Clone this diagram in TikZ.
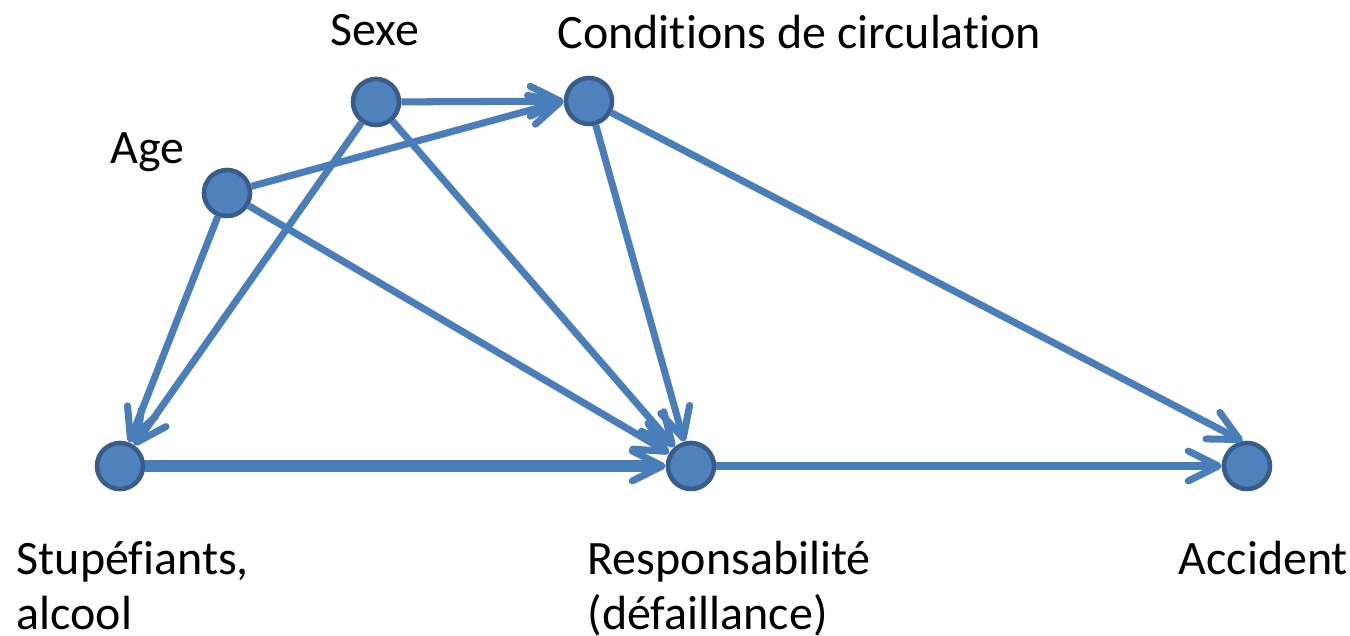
\documentclass[tikz,border=0pt]{standalone}
\usepackage{fontspec}
\setmainfont{Carlito}[Ligatures=NoCommon]
\usetikzlibrary{arrows.meta,positioning}
\definecolor{nodefill}{HTML}{4F81BD}
\definecolor{nodeline}{HTML}{385D8A}
\definecolor{edgecol}{HTML}{4A7EBB}
\begin{document}
\begin{tikzpicture}
[x=0.01cm,y=-0.01cm,
vertex/.style={shape=circle,minimum size=0.46cm,inner sep=0pt,draw=nodeline,fill=nodefill,line width=1.3pt},
lbl/.style={inner sep=0pt,anchor=base west,align=left,font=\fontsize{13.65pt}{15.6pt}\selectfont},
%
myedge/.style={line width=2pt,edgecol,-{Straight Barb[length=8.5pt,width=8.5pt,line width=2pt,round]}},
fatedge/.style={myedge,line width=3.2pt}]
%
\useasboundingbox (0,0) rectangle (1350,636);
%
\node (sexe) [vertex] at (376,102) {};
\node (cond) [vertex] at (589,101) {};
\node (age) [vertex] at (227,193) {};
\node (stup) [vertex] at (120,466) {};
\node (resp) [vertex] at (691,466) {};
\node (acc) [vertex] at (1247,466) {};
%
\node (tsexe) [lbl] at (330,45) {Sexe};
\node (tcond) [lbl] at (557,48) {Conditions de circulation};
\node (tage) [lbl] at (110,163) {Age};
\node (tstup) [lbl] at (16,629) {Stupéfiants,\\alcool};
\node (tresp) [lbl] at (587,629) {Responsabilité\\(défaillance)};
\node (tacc) [lbl] at (1178,574) {Accident};
%
\draw[myedge] (sexe) -- (cond);
\draw[myedge] (age) -- (cond.west);
%
\draw[myedge] (sexe) -- (stup);
\draw[myedge] (age) -- (stup);
%
\draw[myedge] (sexe) -- (resp);
\draw[myedge] (age) -- (resp);
\draw[myedge] (cond) -- (resp);
\draw[fatedge] (stup) -- (resp);
%
\draw[myedge] (cond) -- (acc.100);
\draw[myedge] (resp) -- (acc);
\end{tikzpicture}
\end{document}
